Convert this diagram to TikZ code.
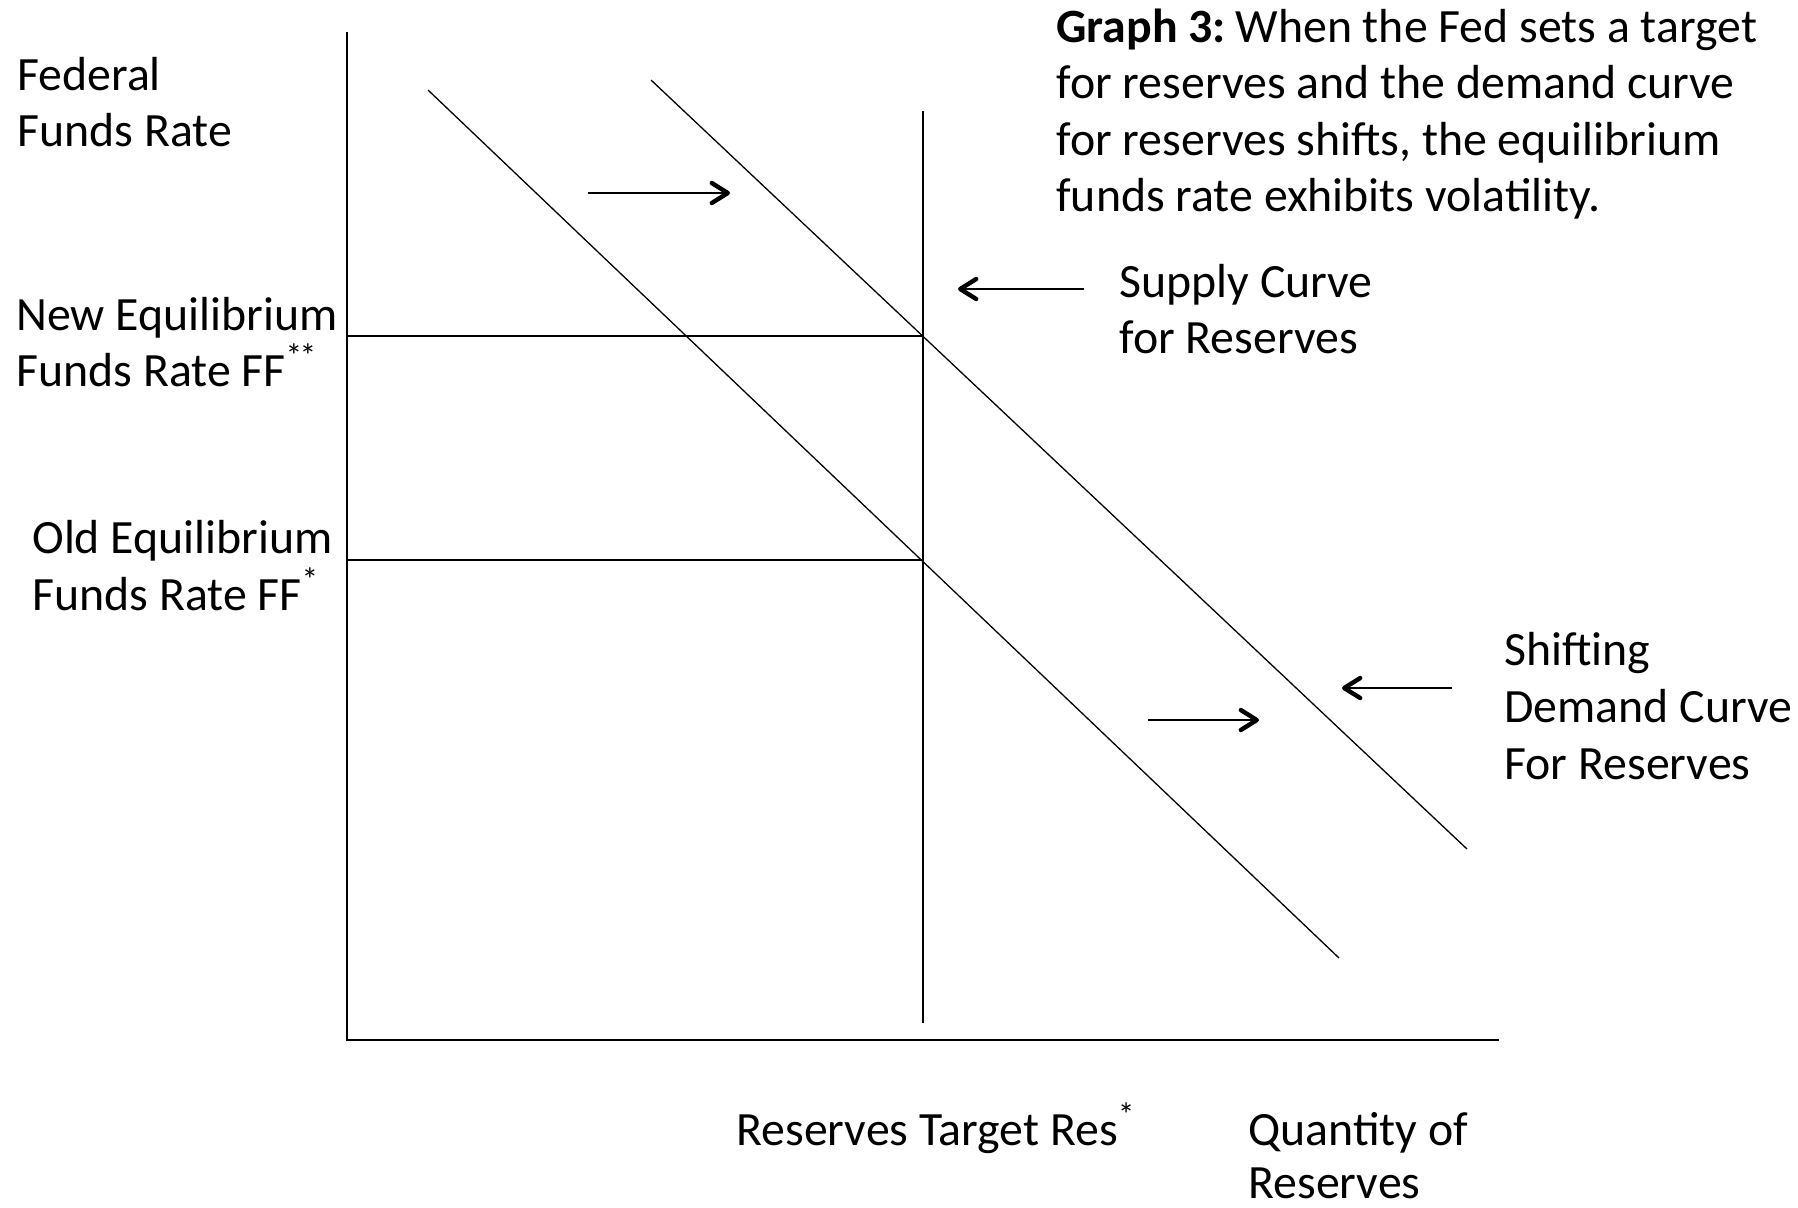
\documentclass[tikz,border=0pt]{standalone}
\usepackage{fontspec}
\setmainfont{Carlito}
\usetikzlibrary{arrows.meta}
\newcommand{\dstar}{\textsuperscript{*\kern-0.08em*}}
\begin{document}
\begin{tikzpicture}[x=0.5pt,y=-0.5pt,
  txt/.style={anchor=base west,inner sep=0pt,font=\fontsize{23.9}{28}\selectfont},
  axisline/.style={line width=1pt},
  curveline/.style={line width=0.65pt},
  levelline/.style={line width=0.85pt},
  arr/.style={line width=1.1pt,-{Straight Barb[length=8pt,width=10pt,line width=2.2pt,round]}}]
\useasboundingbox[fill=white] (0,0) rectangle (1798,1207);
% axes
\coordinate (ytop) at (347,32);
\coordinate (origin) at (347,1040);
\coordinate (xend) at (1499,1040);
\draw[axisline] (ytop) -- (origin) -- (xend);
% supply
\coordinate (stop) at (923,111);
\coordinate (sbot) at (923,1023);
\draw[curveline] (stop) -- (sbot);
% demand curves
\coordinate (d1a) at (428,90);
\coordinate (d1b) at (1339,958);
\coordinate (d2a) at (651,80);
\coordinate (d2b) at (1467,849);
\draw[curveline] (d1a) -- (d1b);
\draw[curveline] (d2a) -- (d2b);
% equilibrium levels
\coordinate (newL) at (347,336);
\coordinate (newR) at (923,336);
\coordinate (oldL) at (347,560);
\coordinate (oldR) at (923,560);
\draw[levelline] (newL) -- (newR);
\draw[levelline] (oldL) -- (oldR);
% arrows
\coordinate (a1s) at (588,193);
\coordinate (a1e) at (730,193);
\coordinate (a2s) at (1084,289);
\coordinate (a2e) at (958,289);
\coordinate (a3s) at (1452,688);
\coordinate (a3e) at (1342,688);
\coordinate (a4s) at (1148,720);
\coordinate (a4e) at (1259,720);
\draw[arr] (a1s) -- (a1e);
\draw[arr] (a2s) -- (a2e);
\draw[arr] (a3s) -- (a3e);
\draw[arr] (a4s) -- (a4e);
% texts
\node[txt] (fed1) at (17,90) {Federal};
\node[txt] (fed2) at (17,146) {Funds Rate};
\node[txt] (new1) at (16,330) {New Equilibrium};
\node[txt] (new2) at (16,386) {Funds Rate FF\dstar};
\node[txt] (old1) at (32,553) {Old Equilibrium};
\node[txt] (old2) at (32,610) {Funds Rate FF\textsuperscript{*}};
\node[txt] (t1) at (1056,42) {\textbf{Graph 3:}\kern-0.1em{} When the Fed sets a target};
\node[txt] (t2) at (1056,98.5) {for reserves and the demand curve};
\node[txt] (t3) at (1056,155) {for reserves shifts, the equilibrium};
\node[txt] (t4) at (1056,211.5) {funds rate exhibits volatility.};
\node[txt] (s1) at (1119,297) {Supply Curve};
\node[txt] (s2) at (1119,353) {for Reserves};
\node[txt] (dd1) at (1504,665) {Shifting};
\node[txt] (dd2) at (1504,722) {Demand Curve};
\node[txt] (dd3) at (1504,779) {For Reserves};
\node[txt] (rt) at (736,1145) {Reserves Target Res\textsuperscript{*}};
\node[txt] (q1) at (1248,1145) {Quantity of};
\node[txt] (q2) at (1248,1198) {Reserves};
\end{tikzpicture}
\end{document}
